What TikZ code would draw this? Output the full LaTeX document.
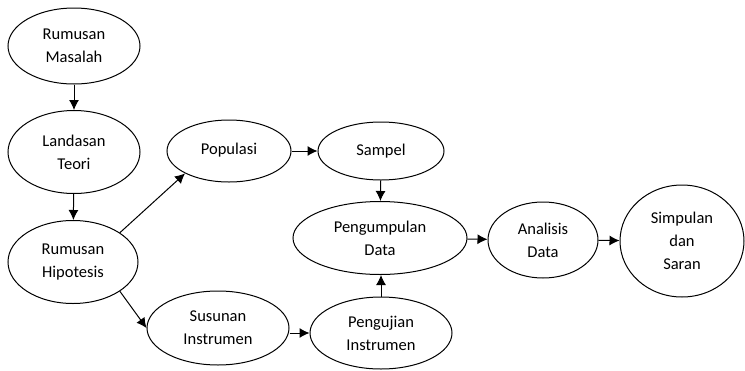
\documentclass[tikz,border=0pt]{standalone}
\usepackage{fontspec}
\setmainfont{Carlito}
\usetikzlibrary{shapes.geometric,arrows.meta}
\begin{document}
\begin{tikzpicture}[x=1pt,y=-1pt,
  oval/.style={ellipse,draw,line width=1pt,inner sep=0pt,align=center,
    font=\fontsize{16.5}{23}\selectfont},
  flow/.style={line width=1pt,-{Latex[length=10pt,width=10pt]}}]
\useasboundingbox (0,0) rectangle (745,370);
% process steps
\node[oval,minimum width=132pt,minimum height=76pt] (masalah) at (74,46) {Rumusan\\Masalah};
\node[oval,minimum width=132pt,minimum height=83pt] (teori) at (74,152) {Landasan\\Teori};
\node[oval,minimum width=130pt,minimum height=83pt] (hipo) at (73,262) {Rumusan\\Hipotesis};
\node[oval,minimum width=124pt,minimum height=62pt] (pop) at (229,151) {\raisebox{4pt}{Populasi}};
\node[oval,minimum width=126pt,minimum height=58pt] (sampel) at (381,151) {Sampel};
\node[oval,minimum width=174pt,minimum height=73pt] (kumpul) at (380,238) {Pengumpulan\\Data};
\node[oval,minimum width=142pt,minimum height=74pt] (susun) at (218,328) {Susunan\\Instrumen};
\node[oval,minimum width=142pt,minimum height=72pt] (uji) at (381,333) {Pengujian\\Instrumen};
\node[oval,minimum width=110pt,minimum height=76pt] (analisis) at (543,240) {Analisis\\Data};
\node[oval,minimum width=124pt,minimum height=112pt] (simpulan) at (682,241) {Simpulan\\dan\\Saran};
% connectors
\draw[flow] (masalah) -- (teori);
\draw[flow] (teori) -- (hipo);
\draw[flow] (hipo.32) -- (pop.207);
\draw[flow] (hipo.-32) -- (susun.west);
\draw[flow] (pop) -- (sampel);
\draw[flow] (sampel) -- (kumpul);
\draw[flow] (uji.north) -- (uji.north |- kumpul.south);
\draw[flow] (susun.east |- uji.west) -- (uji.west);
\draw[flow] (kumpul) -- (analisis);
\draw[flow] (analisis) -- (simpulan);
\end{tikzpicture}
\end{document}
